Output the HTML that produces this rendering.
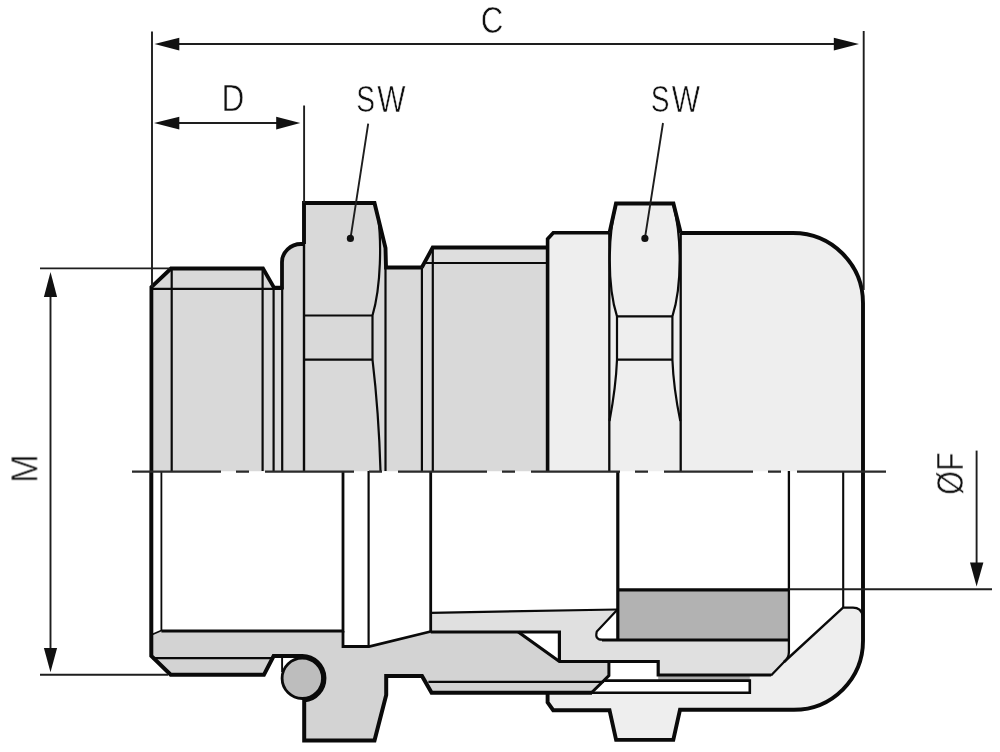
<!DOCTYPE html>
<html><head><meta charset="utf-8">
<style>
html,body{margin:0;padding:0;background:#fff;}
svg{display:block;}
text{font-family:"Liberation Sans",sans-serif;fill:#111;stroke:#fff;stroke-width:0.6px;}
.txt{filter:grayscale(1);}
</style></head>
<body>
<svg width="1000" height="752" viewBox="0 0 1000 752">
<!-- ===== UPPER HALF FILLS ===== -->
<g stroke="none">
  <path fill="#d9d9d9" d="M151.5,471.3 L151.5,287 L171,268.5 L263,268.5 L274,287.5 L282,287.5 L282,262 A19,18 0 0 1 301,244 L304,244 L304,471.3 Z"/>
  <path fill="#d9d9d9" d="M304,203 L374.5,203 L385.5,248 L386,267.5 L386,471.3 L304,471.3 Z"/>
  <path fill="#d9d9d9" d="M386,267.5 L421.8,267.5 L421.8,471.3 L386,471.3 Z"/>
  <path fill="#d9d9d9" d="M421.8,267.5 L432.7,247.5 L547.6,247.5 L547.6,471.3 L421.8,471.3 Z"/>
  <path fill="#dedede" d="M424.25,263 L432.7,247.5 L547.6,247.5 L547.6,263 Z"/>
  <path fill="#eeeeee" d="M547.6,471.3 L547.6,239 L553.3,232.8 L609,232.8 L609,471.3 Z"/>
  <path fill="#eeeeee" d="M609,232.8 L616,203.5 L673.4,203.5 L680.7,232.8 L680.7,471.3 L609,471.3 Z"/>
  <path fill="#eeeeee" d="M680.7,233 L793,233 A70,70 0 0 1 863,303 L863,471.3 L680.7,471.3 Z"/>
</g>

<!-- ===== LOWER HALF FILLS ===== -->
<g stroke="none">
  <!-- cap lower -->
  <path fill="#eeeeee" d="M658,676 L771,676 L843,607.6 L853,607.6 Q861,607.6 863,616 L863,640.8 A69,69 0 0 1 794,709.8 L680,709.8 L673.3,739.9 L616.1,739.9 L609.5,710.2 L553.2,710.2 L547.6,702.4 L547.6,692.8 L592,692.8 L609,676 Z"/>
  <!-- insert -->
  <path fill="#e0e0e0" d="M430.7,612.8 L617.5,609.5 L596.8,631.5 Q594.5,639.7 602,639.7 L788.8,639.7 L788.8,652 Q788.8,658 784,662 L771,675.5 L658.2,675.5 L658.2,661.3 L559.4,661.3 L559.4,632 L430.7,632 Z"/>
  <!-- seal -->
  <path fill="#b2b2b2" d="M618.5,589.5 L788.8,589.5 L788.8,640 L618.5,640 Z"/>
  <!-- body -->
  <path fill="#d3d3d3" d="M161.4,631 L343,631 L343,646.5 L369,646.5 L430.7,631.5 L518.3,632 L559.4,661.5 L608.9,661.5 L608.9,675.6 L591.7,692.5 L431.6,692.8 L422,676 L386.2,676 L386.2,695 L374,740.5 L304.2,740.5 L304.2,700.5 A22.3,22.3 0 0 0 302.3,656 L273.6,656 L263.9,674.8 L170.7,674.8 L151,656 L151,634.5 Z"/>
  <!-- white gaps -->
  <path fill="#fff" d="M609,662 L658.2,662 L658.2,679.5 L609,679.5 Z"/>
  <path fill="#fff" d="M604.3,680.5 L749.8,680.5 L749.8,692.8 L592,692.8 Z"/>
  <path fill="#aaaaaa" d="M658.2,676 L749.8,676 L749.8,680 L658.2,680 Z"/>
  <path fill="#fff" d="M281.7,656.5 L300,656.5 L300,680 L281.7,680 Z"/>
  <circle cx="302.3" cy="678.3" r="20.2" fill="#bdbdbd" stroke="#0a0a0a" stroke-width="2.8"/>
</g>

<!-- ===== OUTLINES ===== -->
<g fill="none" stroke="#0a0a0a" stroke-linejoin="miter" stroke-linecap="butt">
  <!-- upper silhouette -->
  <path stroke-width="3.8" d="M151.4,471 L151.4,287 L171,268.5 L263,268.5 L274,287.6 L282,287.6 L282,262 A19,18 0 0 1 301,244 L304,244"/>
  <path stroke-width="2.4" d="M304,244 L304,471"/>
  <path stroke-width="3.9" d="M304,244 L304,203 L374.5,203 L385.5,248 L386,267.5 L421.8,267.5"/>
  <path stroke-width="3.8" d="M421.8,267.5 L432.7,247.5 L547.6,247.5"/>
  <path stroke-width="3.6" d="M547.6,471 L547.6,239 L553.3,232.8 L609,232.8"/>
  <path stroke-width="3.9" d="M609.5,232.8 L616,203.5 L673.4,203.5 L680.7,232.8"/>
  <path stroke-width="3.9" d="M680.7,233 L793,233 A70,70 0 0 1 863,303 L863,471"/>
  <!-- thread inner lines -->
  <g stroke-width="2.2">
    <path d="M171.7,268 L171.7,471 M262.6,268 L262.6,471 M273.6,288 L273.6,471 M282.2,287 L282.2,471"/>
    <path d="M152,288.8 L282,288.8"/>
  </g>
  <!-- nut1 inner -->
  <g stroke-width="2.2">
    <path d="M304,315.5 L372.5,315.5 M304,359.7 L372.5,359.7"/>
    <path d="M378.2,218 C381.2,240 381.5,285 372.5,315.5 L372.5,359.7 C375.5,385 379,420 380.5,471"/>
  </g>
  <path stroke-width="2.2" d="M385.5,267 L385.5,471"/>
  <!-- middle inner -->
  <g stroke-width="2.2">
    <path d="M421.9,267.5 L421.9,471 M432.8,247.5 L432.8,471 M426,263 L547,263"/>
  </g>
  <!-- nut2 -->
  <g stroke-width="2.3">
    <path d="M609.3,232.8 L609.3,471 M680.7,232.8 L680.7,471"/>
  </g>
  <g stroke-width="2.2">
    <path d="M616,205 C608,235 607,285 617,316.3 L617,359.7 C616,385 612.5,405 609.5,421"/>
    <path d="M673.4,205 C681.4,235 682.4,285 672.4,316.3 L672.4,359.7 C673.4,385 677,405 680.3,421"/>
  </g>
  <g stroke-width="2.2">
    <path d="M617,316.3 L672.4,316.3 M617,359.7 L672.4,359.7"/>
  </g>

  <!-- ===== LOWER OUTLINES ===== -->
  
  <path stroke-width="1.8" d="M161.4,471 L161.4,630.5 L152.2,634.5"/>
  <path stroke-width="2.8" d="M161.4,631 L343,631 L343,471"/>
  <path stroke-width="2.8" d="M343,631 L343,646.5 L369,646.5 L430.7,631.5"/>
  <path stroke-width="2.2" d="M368.6,471 L368.6,646.5"/>
  <path stroke-width="2.3" d="M152,658.2 L273,658.2"/>
  <path stroke-width="4" d="M151.3,471 L151.3,656 L170.7,674.8 L263.9,674.8 L273.6,656 L302.3,656 A22.3,22.3 0 0 1 304.2,700.5 L304.2,740.6 L374.5,740.6 L386.2,695 L386.2,676 L422,676 L431.6,692.8 L592,692.8"/>
  <path stroke-width="1.9" d="M282.1,656 L282.1,672"/>
  <path stroke-width="2.8" d="M430.7,471 L430.7,632"/>
  <path stroke-width="2.2" d="M430.7,612.8 L617.5,609.5"/>
  <path stroke-width="2.2" d="M428.4,681.9 L604,681.9"/>
  <path stroke-width="3.2" d="M430.7,632 L559.4,632 L559.4,661.5"/>
  <path stroke-width="3.2" d="M518.3,632 L559.4,661.5 L658.2,661.5 L658.2,675 L771,675"/>
  <path stroke-width="3" d="M608.9,661.5 L608.9,675.6 L591.7,692.5"/>
  <path stroke-width="2.6" d="M604.3,680.6 L749.8,680.6 L749.8,692.8 L547.6,692.8"/>
  <path stroke-width="3.9" d="M547.6,692.8 L547.6,702.4 L553.2,710.2 L609.5,710.2 L616.1,739.9 L673.3,739.9 L680,709.8 L794,709.8 A69,69 0 0 0 863,640.8 L863,471"/>
  <!-- seal -->
  <path stroke-width="3.2" d="M617.8,471 L617.8,640"/>
  <path stroke-width="3.2" d="M618.5,589.8 L788.8,589.8"/>
  <path stroke-width="3.2" d="M602,640 L788.8,640"/>
  <path stroke-width="2.3" d="M788.9,471 L788.9,652 Q788.9,658 784,662 L771,675.5"/>
  <path stroke-width="2.2" d="M617.5,609.5 L596.8,631.5 Q594.5,639.7 602,639.7"/>
  <!-- cap lip -->
  <path stroke-width="2.1" d="M843.2,471 L843.2,607.6"/>
  <path stroke-width="2.4" d="M784,662 L843,607.6 L853,607.6 Q861,607.6 863,616"/>
</g>

<!-- ===== CENTER LINE ===== -->
<line x1="132" y1="471.6" x2="887" y2="471.6" stroke="#2a2a2a" stroke-width="2.2" stroke-dasharray="89 15 13 16"/>

<!-- ===== DIMENSIONS ===== -->
<g stroke="#1e1e1e" stroke-width="1.9" fill="none">
  <path d="M152,31.5 L152,287 M863.7,31 L863.7,290"/>
  <path d="M170,44 L845,44"/>
  <path d="M170,123 L290,123"/>
  <path d="M304.1,105.5 L304.1,203"/>
  <path d="M40,268.4 L170,268.4 M40,674.7 L168,674.7"/>
  <path d="M50.5,290 L50.5,655"/>
  <path d="M789,589.2 L992,589.2"/>
  <path d="M976.6,450.6 L976.6,570"/>
  <path d="M368.2,123.6 L350.5,238.3 M663,123 L644.9,238.3"/>
</g>
<g fill="#111" stroke="none">
  <path d="M154.5,44.1 L179.3,37.7 L179.3,50.6 Z"/>
  <path d="M859,44.1 L833.8,37.7 L833.8,50.6 Z"/>
  <path d="M154,123 L179.3,116.8 L179.3,129.4 Z"/>
  <path d="M300.3,123 L276.2,116.8 L276.2,129.4 Z"/>
  <path d="M50.5,272 L43.9,297 L57.1,297 Z"/>
  <path d="M50.5,672.3 L43.9,648 L57.1,648 Z"/>
  <path d="M976.6,586.5 L970,562.5 L983.4,562.5 Z"/>
  <circle cx="350.4" cy="238.4" r="3.6"/>
  <circle cx="644.9" cy="238.4" r="3.6"/>
</g>

<!-- ===== TEXT ===== -->
<g class="txt">
<text x="492" y="33" font-size="37" text-anchor="middle" transform="translate(492 0) scale(0.846 1) translate(-492 0)">C</text>
<text x="233" y="111" font-size="37" text-anchor="middle" transform="translate(233 0) scale(0.856 1) translate(-233 0)">D</text>
<text font-size="37" transform="translate(356.2 112) scale(0.76 1)">S</text>
<text font-size="37" transform="translate(377.2 112) scale(0.81 1)">W</text>
<text font-size="37" transform="translate(650.7 112) scale(0.76 1)">S</text>
<text font-size="37" transform="translate(671.7 112) scale(0.81 1)">W</text>
<text font-size="37" text-anchor="middle" transform="translate(37.4 468.7) rotate(-90) scale(0.93 1)">M</text>
<text font-size="37" text-anchor="middle" transform="translate(963 473.5) rotate(-90) scale(0.825 1)">ØF</text>
</g>
</svg>
</body></html>
